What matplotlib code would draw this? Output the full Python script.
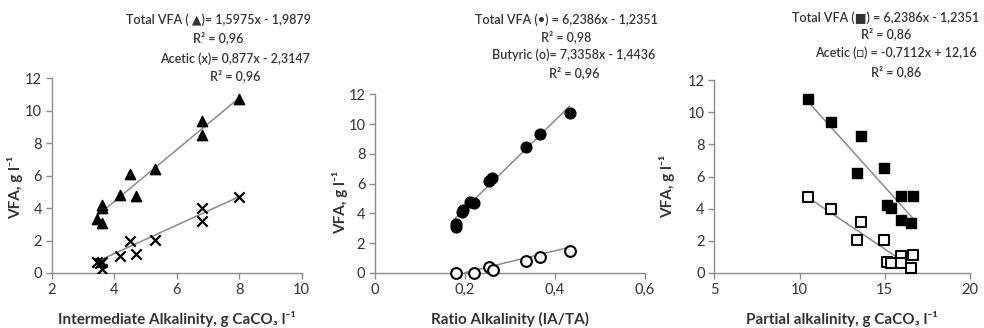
import matplotlib
matplotlib.use("Agg")
import matplotlib.pyplot as plt
import numpy as np

plt.rcParams['font.family'] = ['Lato', 'DejaVu Sans']

# ---------- data ----------
# Panel 1: Intermediate alkalinity
ia_tot_x = [3.45, 3.6, 3.62, 3.62, 4.2, 4.5, 4.7, 5.3, 6.82, 6.82, 8.0]
ia_tot_y = [3.3, 4.2, 4.0, 3.1, 4.8, 6.1, 4.75, 6.4, 9.35, 8.5, 10.75]
ia_ace_x = [3.45, 3.55, 3.6, 3.62, 4.2, 4.5, 4.7, 5.3, 6.82, 6.82, 8.0]
ia_ace_y = [0.65, 0.6, 0.65, 0.25, 1.05, 2.0, 1.2, 2.05, 4.0, 3.2, 4.7]

# Panel 2: Ratio alkalinity
ra_tot_x = [0.18, 0.181, 0.193, 0.195, 0.21, 0.221, 0.254, 0.26, 0.336, 0.367, 0.433]
ra_tot_y = [3.3, 3.1, 4.1, 4.2, 4.8, 4.7, 6.2, 6.35, 8.45, 9.35, 10.75]
ra_but_x = [0.18, 0.221, 0.254, 0.263, 0.336, 0.367, 0.433]
ra_but_y = [0.02, 0.02, 0.42, 0.2, 0.8, 1.1, 1.5]

# Panel 3: Partial alkalinity
pa_tot_x = [10.5, 11.82, 13.6, 13.35, 14.95, 15.13, 15.38, 15.98, 16.66, 15.98, 16.52]
pa_tot_y = [10.8, 9.4, 8.5, 6.2, 6.5, 4.25, 4.05, 4.8, 4.8, 3.3, 3.1]
pa_ace_x = [10.5, 11.82, 13.6, 13.35, 14.95, 15.13, 15.38, 15.98, 15.98, 16.66, 16.52]
pa_ace_y = [4.75, 4.0, 3.2, 2.05, 2.05, 0.7, 0.62, 1.05, 0.6, 1.15, 0.3]

# trend lines: slope, intercept, x start, x end
trend_p1 = [(1.5975, -1.9879, 3.5, 8.0), (0.877, -2.3147, 3.45, 8.0)]
trend_p2 = [(29.64, -1.61, 0.178, 0.432), (7.3358, -1.4436, 0.2, 0.433)]
trend_p3 = [(-1.178, 23.02, 10.41, 16.66), (-0.7112, 12.16, 10.41, 15.8)]

ticks_p1 = [2, 4, 6, 8, 10]
ticks_p2 = [0, 0.2, 0.4, 0.6]
ticklab_p2 = ['0', '0,2', '0,4', '0,6']
ticks_p3 = [5, 10, 15, 20]
yticks = [0, 2, 4, 6, 8, 10, 12]

xlabels = ['Intermediate Alkalinity, g CaCO\u2083 l\u207b\u00b9',
           'Ratio Alkalinity (IA/TA)',
           'Partial alkalinity, g CaCO\u2083 l\u207b\u00b9']
ylabel = 'VFA, g l\u207b\u00b9'

eq_p1 = [['Total VFA ( \u25B2)= 1,5975x - 1,9879', 'R\u00b2 = 0,96'],
         ['Acetic (x)= 0,877x - 2,3147', 'R\u00b2 = 0,96']]
eq_p2 = [['Total VFA (\u2022) = 6,2386x - 1,2351', 'R\u00b2 = 0,98'],
         ['Butyric (o)= 7,3358x - 1,4436', 'R\u00b2 = 0,96']]
eq_p3 = [['Total VFA (\u25A0) = 6,2386x - 1,2351', 'R\u00b2 = 0,86'],
         ['Acetic (\u25A1) = -0,7112x + 12,16', 'R\u00b2 = 0,86']]

# ---------- layout ----------
W, H = 984, 328
fig = plt.figure(figsize=(W / 100, H / 100), dpi=100)

def px_axes(l, r, t, b):
    return fig.add_axes([l / W, 1 - b / H, (r - l) / W, (b - t) / H])

def style(ax, xlim, xt, xtl=None):
    ax.set_xlim(*xlim)
    ax.set_ylim(0, 12)
    ax.set_xticks(xt)
    if xtl is not None:
        ax.set_xticklabels(xtl)
    ax.set_yticks(yticks)
    for s in ['top', 'right']:
        ax.spines[s].set_visible(False)
    for s in ['left', 'bottom']:
        ax.spines[s].set_color('#8c8c8c')
        ax.spines[s].set_linewidth(1.0)
    ax.tick_params(axis='both', colors='#8c8c8c', labelcolor='#333333',
                   labelsize=10.5, length=4, width=1, direction='out', pad=3)
    ax.patch.set_alpha(0)

def trend(ax, params):
    for m, c, x0, x1 in params:
        xs = np.array([x0, x1])
        ax.plot(xs, m * xs + c, color='#8a8a8a', lw=1.1, zorder=1, clip_on=True)

ax1 = px_axes(51.7, 301.7, 78.3, 273)
ax2 = px_axes(375, 645, 94.3, 273)
ax3 = px_axes(714.3, 970, 80, 273)

# panel 1
trend(ax1, trend_p1)
ax1.scatter(ia_tot_x, ia_tot_y, marker='^', s=55, color='black', zorder=3)
ax1.scatter(ia_ace_x, ia_ace_y, marker='x', s=55, color='black', linewidths=1.6, zorder=3)
style(ax1, (2, 10), ticks_p1)

# panel 2
trend(ax2, trend_p2)
ax2.scatter(ra_tot_x, ra_tot_y, marker='o', s=60, color='black', zorder=3)
ax2.scatter(ra_but_x, ra_but_y, marker='o', s=60, facecolors='white',
            edgecolors='black', linewidths=1.5, zorder=3, clip_on=False)
style(ax2, (0, 0.6), ticks_p2, ticklab_p2)

# panel 3
trend(ax3, trend_p3)
ax3.scatter(pa_tot_x, pa_tot_y, marker='s', s=60, color='black', zorder=3)
ax3.scatter(pa_ace_x, pa_ace_y, marker='s', s=45, facecolors='white',
            edgecolors='black', linewidths=1.5, zorder=3, clip_on=False)
style(ax3, (5, 20), ticks_p3)

# axis labels
for ax, lab, cx in zip([ax1, ax2, ax3], xlabels, [177, 510, 842]):
    fig.text(cx / W, 1 - 319 / H, lab, ha='center', va='center',
             fontsize=11, fontweight='bold', color='#333333')
for x, y in [(15, 188), (340, 202), (667, 187)]:
    fig.text(x / W, 1 - y / H, ylabel, ha='center', va='center', rotation=90,
             fontsize=11, fontweight='bold', color='#333333')

# equation annotations
def eqs(blocks, centers, rows):
    k = 0
    for (l1, l2), cx in zip(blocks, centers):
        for line in (l1, l2):
            fig.text(cx / W, 1 - rows[k] / H, line, ha='center', va='center',
                     fontsize=9, fontweight='semibold', color='#333333')
            k += 1

eqs(eq_p1, [218, 235], [20, 38, 59, 76])
eqs(eq_p2, [566, 574], [20, 37, 55, 73])
eqs(eq_p3, [886, 896], [18, 34, 53, 72])

fig.savefig('out.png', dpi=100, facecolor='white')
